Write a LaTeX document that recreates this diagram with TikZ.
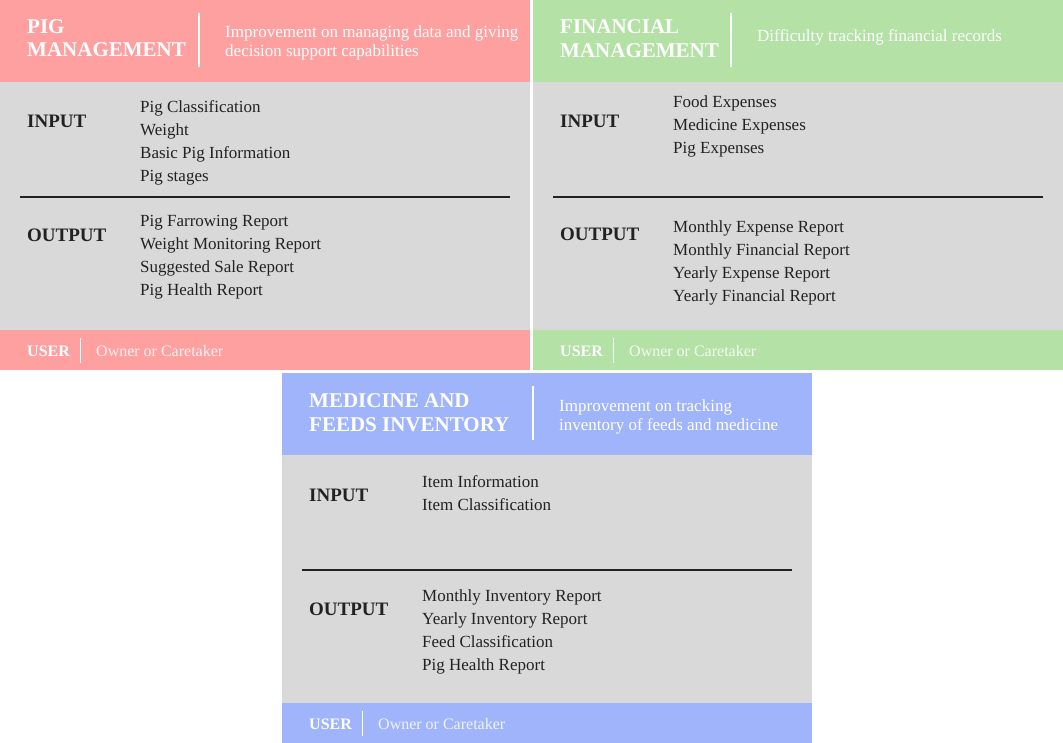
\documentclass[tikz,border=0pt]{standalone}
\usepackage{fontspec}
\setmainfont{Liberation Serif}
\usepackage{xcolor}

\definecolor{pigpink}{HTML}{FFA0A0}
\definecolor{fingreen}{HTML}{B4E1A5}
\definecolor{medblue}{HTML}{A0B4FC}
\definecolor{panelgray}{HTML}{D9D9D9}
\definecolor{textdark}{HTML}{222222}

\tikzset{
  hdtitle/.style={anchor=base west, inner sep=0pt, text=white, font=\fontsize{21}{24}\selectfont\bfseries},
  hddesc/.style={anchor=base west, inner sep=0pt, text=white, font=\fontsize{17}{20}\selectfont},
  iolabel/.style={anchor=base west, inner sep=0pt, text=textdark, font=\fontsize{19}{22}\selectfont\bfseries},
  ioitem/.style={anchor=base west, inner sep=0pt, text=textdark, font=\fontsize{17}{20}\selectfont},
  usrlabel/.style={anchor=base west, inner sep=0pt, text=white, font=\fontsize{16}{19}\selectfont\bfseries},
  usrtext/.style={anchor=base west, inner sep=0pt, text=white, text opacity=.85, font=\fontsize{16}{19}\selectfont},
  sepline/.style={white, line width=1.5pt},
  iorule/.style={textdark, line width=1.5pt}
}

\begin{document}
\begin{tikzpicture}[x=1pt,y=-1pt]
  \fill[white] (0,0) rectangle (1063,743);
  \useasboundingbox (0,0) rectangle (1063,743);

  % pig management
  \begin{scope}[shift={(0,0)}]
    \fill[pigpink] (0,0) rectangle (530,82);
    \fill[panelgray] (0,82) rectangle (530,330);
    \fill[pigpink] (0,330) rectangle (530,370);
    \node[hdtitle] (pm-t1) at (27,34) {PIG};
    \node[hdtitle] (pm-t2) at (27,57) {MANAGEMENT};
    \coordinate (pm-d1) at (199,13);
    \coordinate (pm-d2) at (199,67);
    \draw[sepline] (pm-d1) -- (pm-d2);
    \node[hddesc] (pm-s1) at (225,38) {Improvement on managing data and giving};
    \node[hddesc] (pm-s2) at (225,57) {decision support capabilities};
    \node[iolabel] (pm-in) at (27,128) {INPUT};
    \foreach \txt [count=\i] in {Pig Classification, Weight, Basic Pig Information, Pig stages}
      \node[ioitem] (pm-in-\i) at (140,90+23*\i) {\txt};
    \coordinate (pm-r1) at (20,197);
    \coordinate (pm-r2) at (510,197);
    \draw[iorule] (pm-r1) -- (pm-r2);
    \node[iolabel] (pm-out) at (27,242) {OUTPUT};
    \foreach \txt [count=\i] in {Pig Farrowing Report, Weight Monitoring Report, Suggested Sale Report, Pig Health Report}
      \node[ioitem] (pm-out-\i) at (140,204+23*\i) {\txt};
    \node[usrlabel] (pm-usr) at (27,356) {USER};
    \coordinate (pm-u1) at (80,338);
    \coordinate (pm-u2) at (80,363);
    \draw[sepline, line width=1pt] (pm-u1) -- (pm-u2);
    \node[usrtext] (pm-own) at (96,356) {Owner or Caretaker};
  \end{scope}

  % financial management
  \begin{scope}[shift={(533,0)}]
    \fill[fingreen] (0,0) rectangle (530,82);
    \fill[panelgray] (0,82) rectangle (530,330);
    \fill[fingreen] (0,330) rectangle (530,370);
    \node[hdtitle] (fm-t1) at (27,34) {FINANCIAL};
    \node[hdtitle] (fm-t2) at (27,58) {MANAGEMENT};
    \coordinate (fm-d1) at (198,13);
    \coordinate (fm-d2) at (198,67);
    \draw[sepline] (fm-d1) -- (fm-d2);
    \node[hddesc] (fm-s1) at (224,42) {Difficulty tracking financial records};
    \node[iolabel] (fm-in) at (27,128) {INPUT};
    \foreach \txt [count=\i] in {Food Expenses, Medicine Expenses, Pig Expenses}
      \node[ioitem] (fm-in-\i) at (140,85+23*\i) {\txt};
    \coordinate (fm-r1) at (20,197);
    \coordinate (fm-r2) at (510,197);
    \draw[iorule] (fm-r1) -- (fm-r2);
    \node[iolabel] (fm-out) at (27,241) {OUTPUT};
    \foreach \txt [count=\i] in {Monthly Expense Report, Monthly Financial Report, Yearly Expense Report, Yearly Financial Report}
      \node[ioitem] (fm-out-\i) at (140,210+23*\i) {\txt};
    \node[usrlabel] (fm-usr) at (27,356) {USER};
    \coordinate (fm-u1) at (80,338);
    \coordinate (fm-u2) at (80,363);
    \draw[sepline, line width=1pt] (fm-u1) -- (fm-u2);
    \node[usrtext] (fm-own) at (96,356) {Owner or Caretaker};
  \end{scope}

  % medicine and feeds inventory
  \begin{scope}[shift={(282,373)}]
    \fill[medblue] (0,0) rectangle (530,82);
    \fill[panelgray] (0,82) rectangle (530,330);
    \fill[medblue] (0,330) rectangle (530,370);
    \node[hdtitle] (mi-t1) at (27,34) {MEDICINE AND};
    \node[hdtitle] (mi-t2) at (27,58) {FEEDS INVENTORY};
    \coordinate (mi-d1) at (251,13);
    \coordinate (mi-d2) at (251,67);
    \draw[sepline] (mi-d1) -- (mi-d2);
    \node[hddesc] (mi-s1) at (277,38) {Improvement on tracking};
    \node[hddesc] (mi-s2) at (277,57) {inventory of feeds and medicine};
    \node[iolabel] (mi-in) at (27,128) {INPUT};
    \foreach \txt [count=\i] in {Item Information, Item Classification}
      \node[ioitem] (mi-in-\i) at (140,91+23*\i) {\txt};
    \coordinate (mi-r1) at (20,197);
    \coordinate (mi-r2) at (510,197);
    \draw[iorule] (mi-r1) -- (mi-r2);
    \node[iolabel] (mi-out) at (27,242) {OUTPUT};
    \foreach \txt [count=\i] in {Monthly Inventory Report, Yearly Inventory Report, Feed Classification, Pig Health Report}
      \node[ioitem] (mi-out-\i) at (140,205+23*\i) {\txt};
    \node[usrlabel] (mi-usr) at (27,356) {USER};
    \coordinate (mi-u1) at (80,338);
    \coordinate (mi-u2) at (80,363);
    \draw[sepline, line width=1pt] (mi-u1) -- (mi-u2);
    \node[usrtext] (mi-own) at (96,356) {Owner or Caretaker};
  \end{scope}
\end{tikzpicture}
\end{document}
